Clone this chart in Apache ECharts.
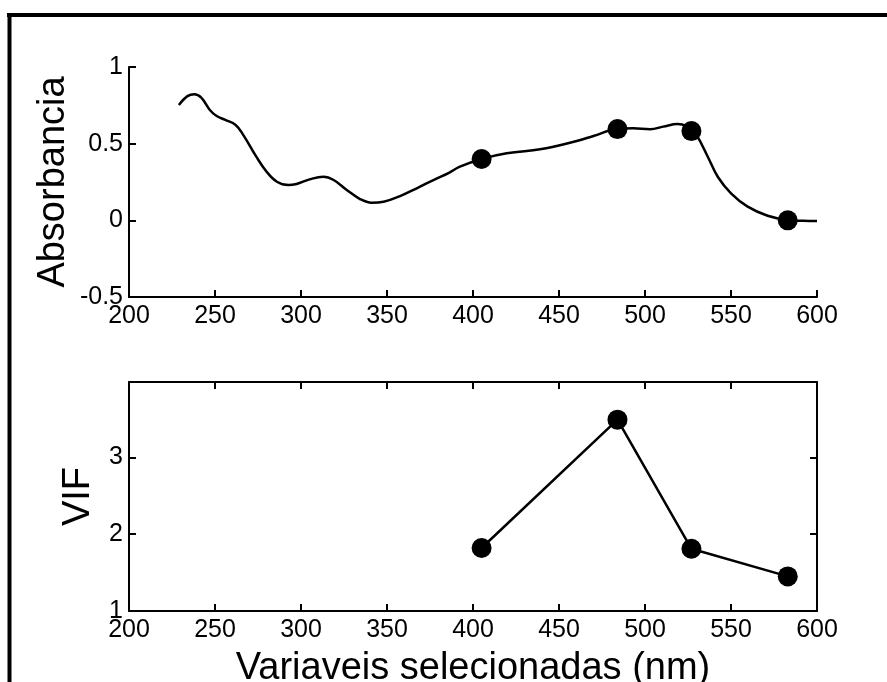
<!DOCTYPE html>
<html>
<head>
<meta charset="utf-8">
<script src="https://cdn.jsdelivr.net/npm/echarts@6/dist/echarts.min.js"></script>
<style>
html,body{margin:0;padding:0;background:#fff;}
#chart{width:887px;height:682px;}
</style>
</head>
<body>
<div id="chart"></div>
<script>
// Spectrum (top panel)
const spectrumWavelength = [229,234,238,242,247,251,256,262,266.5,274,280,286,292.6,297.4,305,313,319,326.6,334.3,341,348,357.6,367.3,377,386,392.4,405,419.6,439,448.7,460.3,470,483.5,493,503,510.6,519,524,527,530,536.5,542.3,550,559.7,571.3,583,592,600];
const spectrumAbsorbance = [0.752,0.81,0.822,0.80,0.72,0.68,0.655,0.622,0.556,0.415,0.317,0.252,0.230,0.237,0.267,0.284,0.263,0.198,0.139,0.115,0.121,0.158,0.209,0.263,0.31,0.350,0.40,0.437,0.463,0.485,0.517,0.55,0.595,0.600,0.594,0.611,0.628,0.615,0.585,0.556,0.415,0.284,0.176,0.089,0.030,0.002,-0.003,-0.005];
// Selected variables
const selectedWavelength = [405,484,527,583];
const selectedAbsorbance = [0.40,0.595,0.582,0.0];
const selectedVIF = [1.82,3.49,1.81,1.45];
// Axis ticks
const xTicks = {min:200,max:600,interval:50};
const yTopTicks = {min:-0.5,max:1,interval:0.5};
const yBottomTicks = {min:1,max:3.98,interval:1};

const FONT = "'Liberation Sans', Arial, sans-serif";
const lineStyle = {color:'#000',width:2};
const tickStyle = {show:true,inside:true,length:7,lineStyle:{color:'#000',width:2}};
const labelStyle = {color:'#000',fontSize:25,fontFamily:FONT};

const chart = echarts.init(document.getElementById('chart'));
chart.setOption({
  animation:false,
  backgroundColor:'#fff',
  graphic:[
    {type:'line',shape:{x1:7,y1:15,x2:887,y2:15},style:{stroke:'#000',lineWidth:4}},
    {type:'line',shape:{x1:9.5,y1:13,x2:9.5,y2:682},style:{stroke:'#000',lineWidth:4}}
  ],
  grid:[
    {left:129,top:67,width:688,height:230,outerBoundsMode:'none',containLabel:false},
    {left:129,top:382,width:688,height:229,outerBoundsMode:'none',containLabel:false}
  ],
  xAxis:[
    {type:'value',gridIndex:0,min:xTicks.min,max:xTicks.max,interval:xTicks.interval,
     axisLine:{show:true,onZero:false,lineStyle:lineStyle},axisTick:tickStyle,
     axisLabel:Object.assign({margin:7},labelStyle),splitLine:{show:false}},
    {type:'value',gridIndex:1,min:xTicks.min,max:xTicks.max,interval:xTicks.interval,
     axisLine:{show:true,onZero:false,lineStyle:lineStyle},axisTick:tickStyle,
     axisLabel:Object.assign({margin:7},labelStyle),splitLine:{show:false},
     name:'Variaveis selecionadas (nm)',nameLocation:'middle',nameGap:39,nameMoveOverlap:false,
     nameTextStyle:{color:'#000',fontSize:38,fontFamily:FONT}},
    {type:'value',gridIndex:1,position:'top',min:xTicks.min,max:xTicks.max,interval:xTicks.interval,
     axisLine:{show:true,onZero:false,lineStyle:lineStyle},axisTick:tickStyle,
     axisLabel:{show:false},splitLine:{show:false}}
  ],
  yAxis:[
    {type:'value',gridIndex:0,min:yTopTicks.min,max:yTopTicks.max,interval:yTopTicks.interval,
     axisLine:{show:true,onZero:false,lineStyle:lineStyle},axisTick:tickStyle,
     axisLabel:Object.assign({margin:6},labelStyle),splitLine:{show:false},
     name:'Absorbancia',nameLocation:'middle',nameGap:56,nameMoveOverlap:false,
     nameTextStyle:{color:'#000',fontSize:38,fontFamily:FONT}},
    {type:'value',gridIndex:1,min:yBottomTicks.min,max:yBottomTicks.max,interval:yBottomTicks.interval,
     axisLine:{show:true,onZero:false,lineStyle:lineStyle},axisTick:tickStyle,
     axisLabel:Object.assign({margin:6,showMaxLabel:false},labelStyle),splitLine:{show:false},
     name:'VIF',nameLocation:'middle',nameGap:31,nameMoveOverlap:false,
     nameTextStyle:{color:'#000',fontSize:38,fontFamily:FONT}},
    {type:'value',gridIndex:1,position:'right',min:yBottomTicks.min,max:yBottomTicks.max,interval:yBottomTicks.interval,
     axisLine:{show:true,onZero:false,lineStyle:lineStyle},axisTick:tickStyle,
     axisLabel:{show:false},splitLine:{show:false}}
  ],
  series:[
    {type:'line',xAxisIndex:0,yAxisIndex:0,smooth:0.4,showSymbol:false,symbol:'none',
     lineStyle:{color:'#000',width:2.5},
     data:spectrumWavelength.map((w,i)=>[w,spectrumAbsorbance[i]])},
    {type:'scatter',xAxisIndex:0,yAxisIndex:0,symbol:'circle',symbolSize:20,
     itemStyle:{color:'#000',opacity:1},
     data:selectedWavelength.map((w,i)=>[w,selectedAbsorbance[i]])},
    {type:'line',xAxisIndex:1,yAxisIndex:1,symbol:'circle',symbolSize:20,showAllSymbol:true,
     lineStyle:{color:'#000',width:2.5},itemStyle:{color:'#000',opacity:1},
     data:selectedWavelength.map((w,i)=>[w,selectedVIF[i]])}
  ]
});
</script>
</body>
</html>
